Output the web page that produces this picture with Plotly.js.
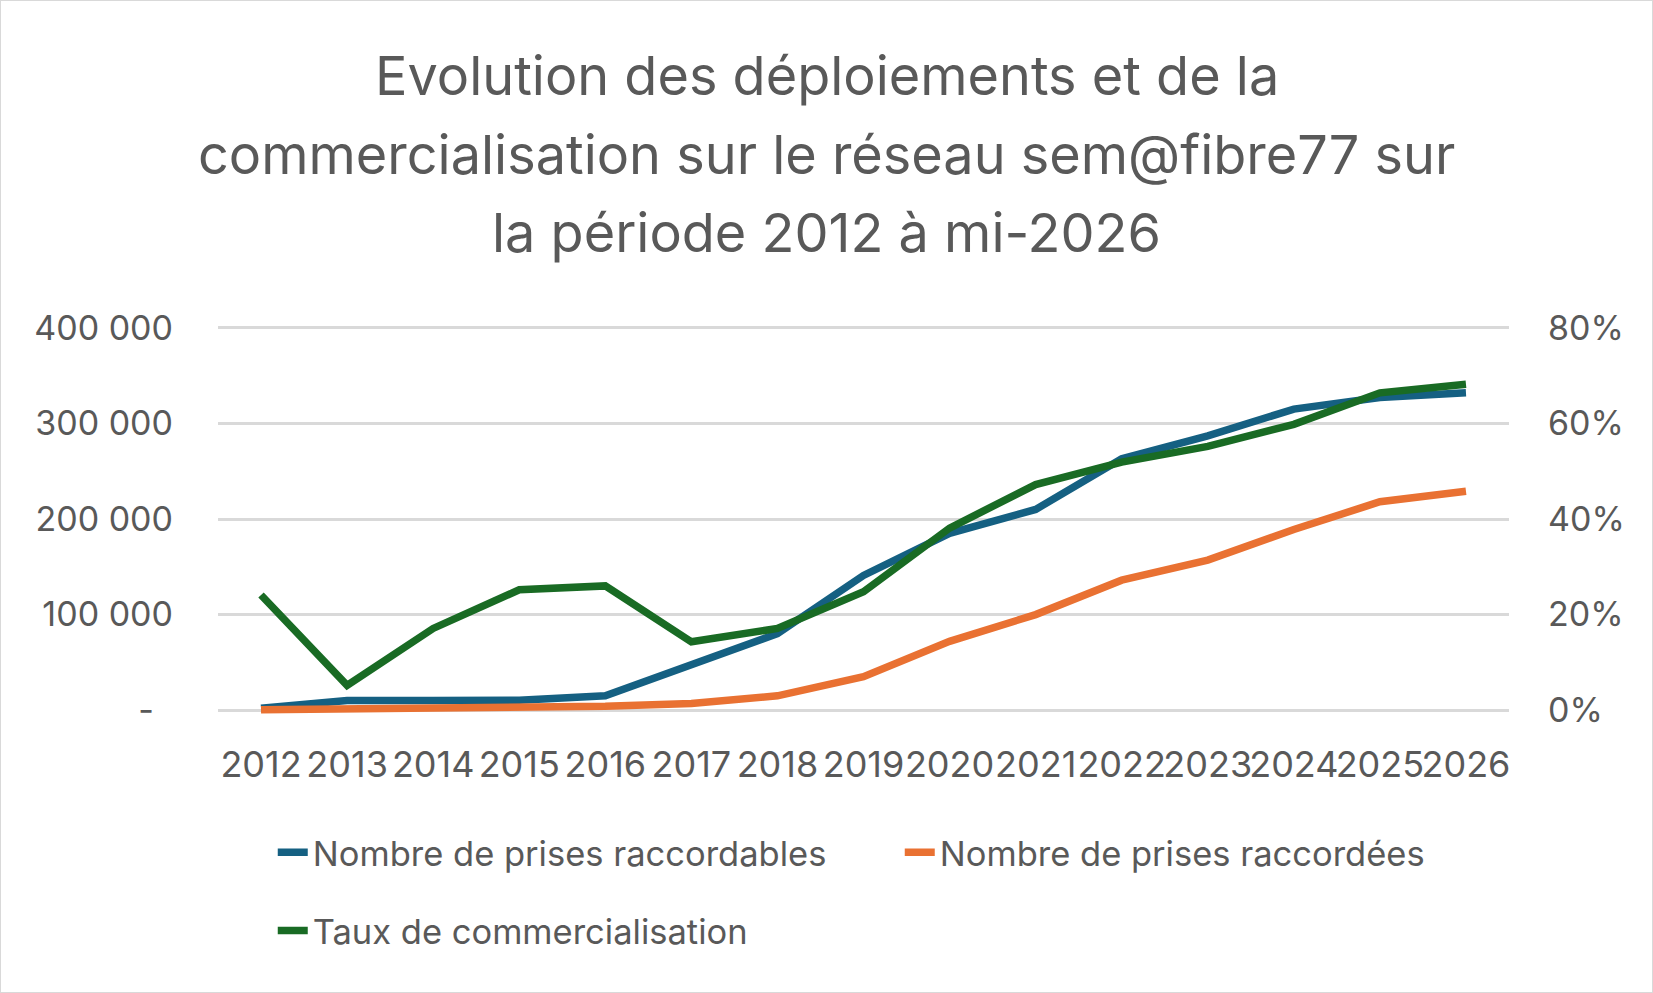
<!DOCTYPE html>
<html>
<head>
<meta charset="utf-8">
<script src="https://cdn.plot.ly/plotly-3.0.1.min.js"></script>
<style>
  html, body { margin: 0; padding: 0; background: #fff; }
  #chart { width: 1651px; height: 991px; border: 1px solid #d9d9d9; }
</style>
</head>
<body>
<div id="chart"></div>
<script>
// Années (catégories)
const years = ['2012', '2013', '2014', '2015', '2016', '2017', '2018', '2019',
               '2020', '2021', '2022', '2023', '2024', '2025', '2026'];

// Nombre de prises raccordables
const raccordables = [2000, 10000, 10000, 10500, 15000, 47000, 80000, 141000,
                      185000, 210000, 263000, 287000, 315000, 327000, 332000];

// Nombre de prises raccordées
const raccordees = [500, 1000, 1500, 2000, 4000, 7000, 15000, 35000,
                    72000, 100000, 136000, 157000, 189000, 218000, 229000];

// Taux de commercialisation (axe droit)
const taux = [0.241, 0.052, 0.171, 0.252, 0.260, 0.143, 0.171, 0.248,
              0.381, 0.472, 0.519, 0.552, 0.598, 0.664, 0.682];

const leftTicks = [0, 100000, 200000, 300000, 400000];
const leftTickText = ['-\u00a0\u00a0', '100 000', '200 000', '300 000', '400 000'];
const rightTicks = [0, 0.2, 0.4, 0.6, 0.8];

const titleLines = [
    'Evolution des déploiements et de la',
    'commercialisation sur le réseau sem@fibre77 sur',
    'la période 2012 à mi-2026'
];

const FONT = 'Inter, "Liberation Sans", sans-serif';
const GREY = '#595959';

const traces = [
    {
        x: years, y: raccordables, type: 'scatter', mode: 'lines',
        name: 'Nombre de prises raccordables',
        line: { color: '#156082', width: 7.5 },
        legend: 'legend'
    },
    {
        x: years, y: raccordees, type: 'scatter', mode: 'lines',
        name: 'Nombre de prises raccordées',
        line: { color: '#E97132', width: 7.5 },
        legend: 'legend'
    },
    {
        x: years, y: taux, type: 'scatter', mode: 'lines',
        name: 'Taux de commercialisation',
        line: { color: '#196B24', width: 7.5 },
        yaxis: 'y2',
        legend: 'legend2'
    }
];

// plot area is padded by 1% top and bottom so the edge gridlines are drawn;
// title lines placed in paper units of that area
const PAD = 0.01;
const titlePx = [76, 155, 233];
const annotations = titleLines.map((t, i) => ({
    text: t,
    xref: 'paper', yref: 'paper',
    x: 0.4717,
    y: (PAD * 382 + 710 - titlePx[i]) / (382 * (1 + 2 * PAD)),
    xanchor: 'center', yanchor: 'middle',
    showarrow: false,
    font: { family: FONT, size: 54, color: GREY }
}));

const layout = {
    width: 1651,
    height: 991,
    paper_bgcolor: '#fff',
    plot_bgcolor: '#fff',
    font: { family: FONT, color: GREY, size: 34 },
    margin: { t: 323, b: 278, l: 217, r: 143 },
    annotations: annotations,
    xaxis: {
        type: 'category',
        range: [-0.5, 14.5],
        showgrid: false,
        zeroline: false,
        showline: false,
        ticks: '',
        tickangle: 0,
        ticklabelstandoff: 26,
        tickfont: { size: 36 }
    },
    yaxis: {
        range: [-400000 * PAD, 400000 * (1 + PAD)],
        tickvals: leftTicks,
        ticktext: leftTickText,
        showgrid: true,
        gridcolor: '#d9d9d9',
        gridwidth: 2.5,
        zeroline: false,
        showline: false,
        ticks: '',
        ticklabelstandoff: 44,
        tickfont: { size: 34 }
    },
    yaxis2: {
        overlaying: 'y',
        side: 'right',
        range: [-0.8 * PAD, 0.8 * (1 + PAD)],
        tickvals: rightTicks,
        tickformat: '.0%',
        showgrid: false,
        zeroline: false,
        showline: false,
        ticks: '',
        ticklabelstandoff: 38,
        tickfont: { size: 34 }
    },
    showlegend: true,
    legend: {
        orientation: 'h',
        xref: 'container', yref: 'container',
        x: 0.1646, xanchor: 'left',
        y: 0.141, yanchor: 'middle',
        entrywidth: 582,
        font: { size: 34.5, color: GREY },
        bgcolor: 'rgba(0,0,0,0)'
    },
    legend2: {
        orientation: 'h',
        xref: 'container', yref: 'container',
        x: 0.1646, xanchor: 'left',
        y: 0.062, yanchor: 'middle',
        font: { size: 34.5, color: GREY },
        bgcolor: 'rgba(0,0,0,0)'
    }
};

Plotly.newPlot('chart', traces, layout, { displayModeBar: false, responsive: false });
</script>
</body>
</html>
